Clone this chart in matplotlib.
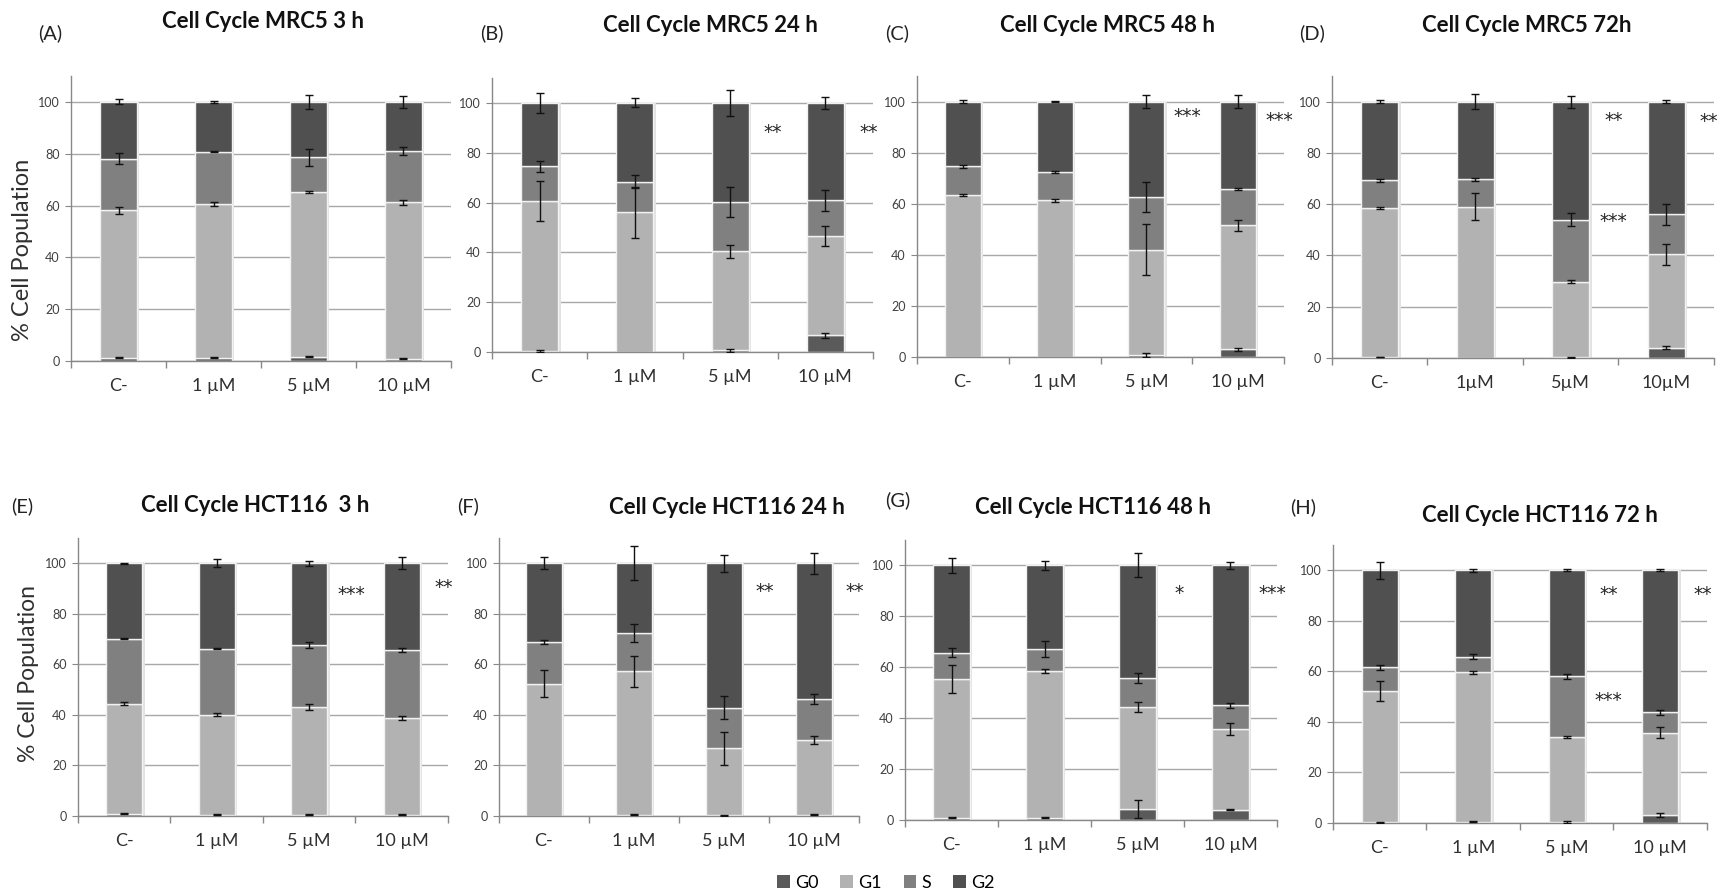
import matplotlib
matplotlib.use("Agg")
import matplotlib.pyplot as plt
from matplotlib.patches import Patch
import numpy as np

plt.rcParams['font.family'] = ['Lato', 'DejaVu Sans']

W, H = 1724, 896

phases = ["G0", "G1", "S", "G2"]
colors = {"G0": "#5a5a5a", "G1": "#b2b2b2", "S": "#808080", "G2": "#505050"}

cats_std = ["C-", "1 µM", "5 µM", "10 µM"]
cats_nospace = ["C-", "1µM", "5µM", "10µM"]

titles = ["Cell Cycle MRC5 3 h", "Cell Cycle MRC5 24 h", "Cell Cycle MRC5 48 h", "Cell Cycle MRC5 72h",
          "Cell Cycle HCT116  3 h", "Cell Cycle HCT116 24 h", "Cell Cycle HCT116 48 h", "Cell Cycle HCT116 72 h"]
panel_letters = ["(A)", "(B)", "(C)", "(D)", "(E)", "(F)", "(G)", "(H)"]
panel_cats = [cats_std, cats_std, cats_std, cats_nospace, cats_std, cats_std, cats_std, cats_std]

# segment values (%) per panel: G0, G1, S, G2 for C-, 1, 5, 10 uM
A_G0 = [1.3, 1.3, 1.7, 0.9]; A_G1 = [56.8, 59.3, 63.5, 60.3]; A_S = [20.0, 20.2, 13.4, 19.9]; A_G2 = [21.9, 19.2, 21.4, 18.9]
B_G0 = [0.5, 0.0, 0.7, 6.7]; B_G1 = [60.1, 56.1, 39.7, 39.9]; B_S = [13.9, 12.3, 19.8, 14.3]; B_G2 = [25.5, 31.6, 39.8, 39.1]
C_G0 = [0.0, 0.0, 0.9, 3.0]; C_G1 = [63.4, 61.3, 41.1, 48.6]; C_S = [11.2, 11.1, 20.7, 14.2]; C_G2 = [25.4, 27.6, 37.3, 34.2]
D_G0 = [0.3, 0.0, 0.2, 4.0]; D_G1 = [58.2, 59.0, 29.5, 36.4]; D_S = [10.9, 10.7, 24.3, 15.6]; D_G2 = [30.6, 30.3, 46.0, 44.0]
E_G0 = [0.9, 0.5, 0.5, 0.5]; E_G1 = [43.6, 39.5, 42.8, 38.3]; E_S = [25.6, 26.2, 24.5, 26.9]; E_G2 = [29.9, 33.8, 32.2, 34.3]
F_G0 = [0.0, 0.5, 0.2, 0.5]; F_G1 = [52.4, 56.7, 26.6, 29.5]; F_S = [16.6, 15.2, 16.1, 16.2]; F_G2 = [31.0, 27.6, 57.1, 53.8]
G_G0 = [0.9, 0.9, 4.4, 4.0]; G_G1 = [54.5, 57.6, 40.0, 31.9]; G_S = [10.4, 8.7, 11.3, 9.1]; G_G2 = [34.2, 32.8, 44.3, 55.0]
H_G0 = [0.2, 0.5, 0.5, 3.2]; H_G1 = [52.0, 59.1, 33.6, 32.6]; H_S = [9.4, 6.2, 23.9, 8.0]; H_G2 = [38.4, 34.2, 42.0, 56.2]

# error (SD) at the top of each segment
A_err = [[0.2, 0.3, 0.3, 0.2], [1.3, 0.8, 0.3, 0.9], [2.0, 0.1, 3.2, 1.4], [1.0, 0.3, 2.8, 2.3]]
B_err = [[0.3, 0.0, 0.7, 1.1], [8.2, 10.2, 2.5, 4.1], [2.3, 2.5, 6.0, 4.3], [4.0, 1.8, 5.2, 2.4]]
C_err = [[0.0, 0.0, 0.8, 0.5], [0.3, 0.5, 9.9, 2.2], [0.6, 0.3, 5.8, 0.3], [0.5, 0.1, 2.5, 2.5]]
D_err = [[0.1, 0.0, 0.1, 0.5], [0.3, 5.2, 0.6, 4.0], [0.6, 0.6, 2.7, 4.1], [0.6, 3.0, 2.3, 0.5]]
E_err = [[0.2, 0.1, 0.1, 0.1], [0.5, 0.6, 1.2, 0.7], [0.2, 0.2, 1.2, 0.8], [0.3, 1.6, 0.9, 2.4]]
F_err = [[0.0, 0.3, 0.1, 0.3], [5.4, 6.1, 6.5, 1.5], [0.8, 3.4, 4.5, 1.9], [2.3, 6.8, 3.4, 4.1]]
G_err = [[0.2, 0.2, 3.6, 0.2], [5.5, 0.8, 1.9, 2.4], [1.8, 3.3, 1.9, 1.0], [3.1, 1.6, 4.7, 1.3]]
H_err = [[0.1, 0.2, 0.4, 0.7], [4.1, 0.6, 0.3, 2.1], [1.0, 0.9, 0.9, 1.0], [3.4, 0.6, 0.4, 0.4]]

# significance marks: (category index, y, text)
A_stars = []
B_stars = [(2, 88, "**"), (3, 88, "**")]
C_stars = [(2, 94, "***"), (3, 92.4, "***")]
D_stars = [(2, 92.8, "**"), (2, 53.1, "***"), (3, 92.2, "**")]
E_stars = [(2, 87.7, "***"), (3, 90.5, "**")]
F_stars = [(2, 88.8, "**"), (3, 88.8, "**")]
G_stars = [(2, 89, "*"), (3, 89, "***")]
H_stars = [(2, 90.5, "**"), (2, 48.3, "***"), (3, 90.5, "**")]

panels = [
    (A_G0, A_G1, A_S, A_G2, A_err, A_stars),
    (B_G0, B_G1, B_S, B_G2, B_err, B_stars),
    (C_G0, C_G1, C_S, C_G2, C_err, C_stars),
    (D_G0, D_G1, D_S, D_G2, D_err, D_stars),
    (E_G0, E_G1, E_S, E_G2, E_err, E_stars),
    (F_G0, F_G1, F_S, F_G2, F_err, F_stars),
    (G_G0, G_G1, G_S, G_G2, G_err, G_stars),
    (H_G0, H_G1, H_S, H_G2, H_err, H_stars),
]

# layout in pixels: left, right, bottom (y=0), top (y=110)
rects = [(71, 451, 361, 76), (492, 873, 352, 78), (917, 1284, 357, 76), (1332, 1714, 358, 76),
         (78, 448, 816, 538), (499, 859, 816, 538), (905, 1277, 820, 540), (1333, 1707, 823, 545)]
title_pos = [(263, 21), (710, 25), (1108, 25), (1527, 25), (255, 505), (727, 508), (1093, 508), (1540, 516)]
letter_pos = [(50, 33), (492, 33), (897, 33), (1312, 33), (22, 506), (468, 506), (898, 500), (1303, 507)]

fig = plt.figure(figsize=(W / 100, H / 100), dpi=100)


def fx(px):
    return px / W


def fy(py):
    return 1 - py / H


bw = 0.39
for i, (g0, g1, s, g2, err, stars) in enumerate(panels):
    l, r, b, t = rects[i]
    ax = fig.add_axes([fx(l), fy(b), fx(r) - fx(l), fy(t) - fy(b)])
    x = np.arange(4)
    segs = [np.array(g0), np.array(g1), np.array(s), np.array(g2)]
    total = sum(segs)
    ax.bar(x + 0.025, total, width=bw, color="#e2e2e2", zorder=1.5, linewidth=0)
    bottom = np.zeros(4)
    for k, ph in enumerate(phases):
        ax.bar(x, segs[k], width=bw, bottom=bottom, color=colors[ph], edgecolor="#f2f2f2",
               linewidth=1.0, zorder=2)
        top = bottom + segs[k]
        e = np.array(err[k])
        mask = (segs[k] > 0) & (e >= 0)
        ax.errorbar(x[mask], top[mask], yerr=e[mask], fmt="none", ecolor="#111111",
                    elinewidth=1.0, capsize=3, capthick=1.0, zorder=3)
        bottom = top
    for (ci, yv, txt) in stars:
        ax.text(ci + 0.45, yv, txt, ha="center", va="center", fontsize=13.5,
                family="DejaVu Sans", color="#222222", zorder=4)
    ax.set_xlim(-0.5, 3.5)
    ax.set_ylim(0, 110)
    ax.set_yticks(np.arange(0, 101, 20))
    ax.yaxis.grid(True, color="#a8a8a8", linewidth=1.0, zorder=0)
    ax.set_axisbelow(True)
    ax.set_xticks([-0.5, 0.5, 1.5, 2.5, 3.5])
    ax.set_xticklabels([])
    ax.set_xticks(x, minor=True)
    ax.set_xticklabels(panel_cats[i], minor=True, fontsize=13, color="#303030")
    ax.tick_params(axis="x", which="major", length=5, color="#888888", width=1)
    ax.tick_params(axis="x", which="minor", length=0, pad=12)
    ax.tick_params(axis="y", length=4, color="#888888", labelsize=9, labelcolor="#404040", pad=4)
    for sp in ["top", "right"]:
        ax.spines[sp].set_visible(False)
    for sp in ["left", "bottom"]:
        ax.spines[sp].set_color("#888888")
        ax.spines[sp].set_linewidth(1.0)
    ax.set_facecolor("none")
    fig.text(fx(title_pos[i][0]), fy(title_pos[i][1]), titles[i], ha="center", va="center",
             fontsize=16, fontweight="bold", color="#111111")
    fig.text(fx(letter_pos[i][0]), fy(letter_pos[i][1]), panel_letters[i], ha="center", va="center",
             fontsize=14.5, color="#222222")

fig.text(fx(23), fy(250), "% Cell Population", rotation=90, ha="center", va="center",
         fontsize=17, color="#303030")
fig.text(fx(29), fy(673), "% Cell Population", rotation=90, ha="center", va="center",
         fontsize=16.5, color="#303030")

handles = [Patch(facecolor=colors[p], edgecolor="none", label=p) for p in phases]
fig.legend(handles=handles, loc="center", bbox_to_anchor=(fx(886), fy(883)), ncol=4, frameon=False,
           fontsize=13, handlelength=0.7, handleheight=0.7, handletextpad=0.3, columnspacing=1.2)

fig.savefig("out.png", dpi=100, facecolor="white")
